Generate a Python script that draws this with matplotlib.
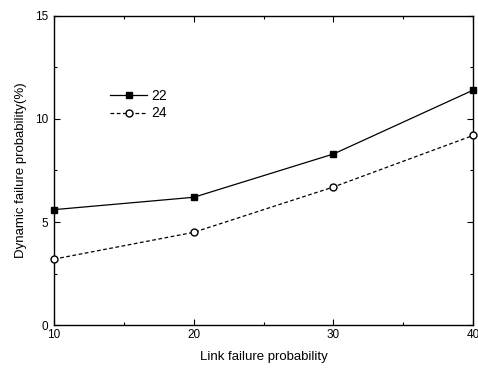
import numpy as np
import matplotlib
matplotlib.use("Agg")
import matplotlib.pyplot as plt
from matplotlib.ticker import MultipleLocator

plt.rcParams['font.family'] = ['Liberation Sans', 'DejaVu Sans']

link_prob = [10, 20, 30, 40]
series_22 = [5.6, 6.2, 8.3, 11.4]
series_24 = [3.2, 4.5, 6.7, 9.2]

fig = plt.figure(figsize=(4.78, 3.69), dpi=100)
ax = fig.add_axes([0.113, 0.119, 0.877, 0.838])

ax.plot(link_prob, series_22, color='black', linewidth=0.9, marker='s',
        markersize=5, markerfacecolor='black', label='22', clip_on=False, zorder=3)
ax.plot(link_prob, series_24, color='black', linewidth=0.9, linestyle=(0, (3, 2)),
        marker='o', markersize=5, markerfacecolor='white', label='24', clip_on=False, zorder=3)

ax.set_xlim(10, 40)
ax.set_ylim(0, 15)
ax.xaxis.set_major_locator(MultipleLocator(10))
ax.xaxis.set_minor_locator(MultipleLocator(5))
ax.yaxis.set_major_locator(MultipleLocator(5))
ax.yaxis.set_minor_locator(MultipleLocator(2.5))
ax.tick_params(which='both', direction='in', top=True, right=True, labelsize=8.5)
ax.tick_params(which='major', length=4, width=0.8)
ax.tick_params(which='minor', length=2.5, width=0.8)
ax.tick_params(axis='x', labeltop=False, pad=3)
ax.tick_params(axis='y', pad=4)
for s in ax.spines.values():
    s.set_linewidth(1.0)

ax.set_xlabel('Link failure probability', fontsize=9.5, labelpad=7)
ax.set_ylabel('Dynamic failure probability(%)', fontsize=9.5, labelpad=6)

ax.legend(loc='upper left', bbox_to_anchor=(0.12, 0.783), frameon=False, fontsize=10,
          handlelength=2.7, handletextpad=0.3, labelspacing=0.28, borderaxespad=0)

fig.savefig('out.png', dpi=100)
